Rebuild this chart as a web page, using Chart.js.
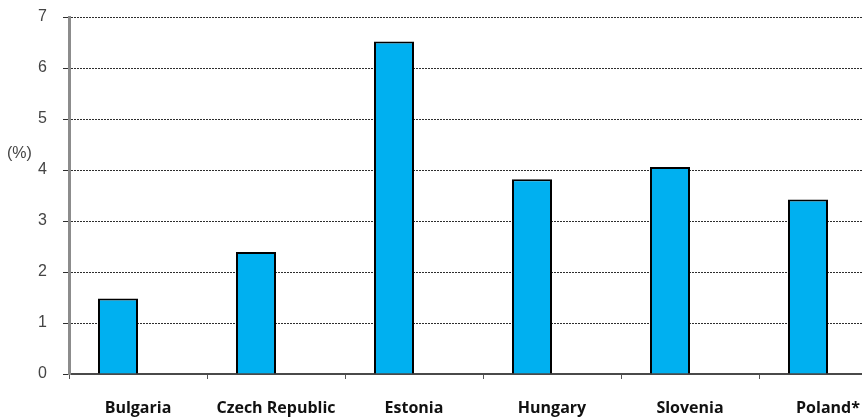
<!DOCTYPE html>
<html>
  <head>
    <meta charset="utf-8">
    <title>Rate by country (%)</title>
    <script src="https://cdn.jsdelivr.net/npm/chart.js"></script>
    <style>
      body { margin: 0; padding: 0; background: #fff; overflow: hidden; }
      #wrap { width: 900px; height: 419px; }
    </style>
  </head>
  <body>
    <div id="wrap"><canvas id="rateChart" width="900" height="419"></canvas></div>

    <script>
      // categories and values
      const countries = ['Bulgaria', 'Czech Republic', 'Estonia', 'Hungary', 'Slovenia', 'Poland*'];
      const rates = [1.48, 2.39, 6.52, 3.82, 4.06, 3.42];
      // second series in the workbook is empty, it only keeps a slot next to each bar
      const emptySeries = [null, null, null, null, null, null];
      const yTicks = [0, 1, 2, 3, 4, 5, 6, 7];

      const gridColor = '#2e2e2e';
      const tickFont = { family: 'Arial, "Liberation Sans", sans-serif', size: 16 };

      // "(%)" sits just above the 4 tick, left of the axis
      const unitLabel = {
        id: 'unitLabel',
        afterDraw(chart) {
          const y = chart.scales.y;
          const ctx = chart.ctx;
          ctx.save();
          ctx.font = '16px Arial, "Liberation Sans", sans-serif';
          ctx.fillStyle = '#444';
          ctx.textAlign = 'left';
          ctx.textBaseline = 'middle';
          ctx.fillText('(%)', 7, y.getPixelForValue(4) - 16);
          ctx.restore();
        }
      };

      new Chart(document.getElementById('rateChart'), {
        type: 'bar',
        data: {
          labels: countries,
          datasets: [{
            label: 'Rate',
            data: rates,
            backgroundColor: '#00b0f0',
            borderColor: '#000',
            borderWidth: 2,
            borderSkipped: 'bottom'
          }, {
            label: '',
            data: emptySeries,
            backgroundColor: '#00b0f0'
          }]
        },
        options: {
          responsive: false,
          animation: false,
          categoryPercentage: 0.58,
          barPercentage: 1.0,
          layout: { padding: { top: 17, right: 3, left: 0, bottom: 0 } },
          plugins: {
            legend: { display: false },
            tooltip: { enabled: false }
          },
          scales: {
            x: {
              offset: true,
              grid: {
                offset: true,
                drawOnChartArea: false,
                tickLength: 5,
                tickColor: '#555'
              },
              border: { color: '#4a4a4a', width: 2 },
              ticks: {
                color: '#111',
                padding: 20,
                maxRotation: 0,
                font: { family: '"Open Sans", Lato, sans-serif', size: 16, weight: 'bold' }
              },
              afterFit(scale) { scale.height = 45; }
            },
            y: {
              min: 0,
              max: 7,
              afterBuildTicks(scale) { scale.ticks = yTicks.map(v => ({ value: v })); },
              grid: {
                color: gridColor,
                lineWidth: 1,
                tickLength: 6,
                tickColor: gridColor
              },
              // dotted horizontal gridlines, solid grey axis
              border: { color: '#8c8c8c', width: 3, dash: [2, 1] },
              ticks: {
                color: '#444',
                padding: 16,
                font: tickFont
              },
              afterFit(scale) {
                scale.width = 69;
                scale.paddingTop = 0;
                scale.paddingBottom = 0;
              }
            }
          }
        },
        plugins: [unitLabel]
      });
    </script>
  </body>
</html>
